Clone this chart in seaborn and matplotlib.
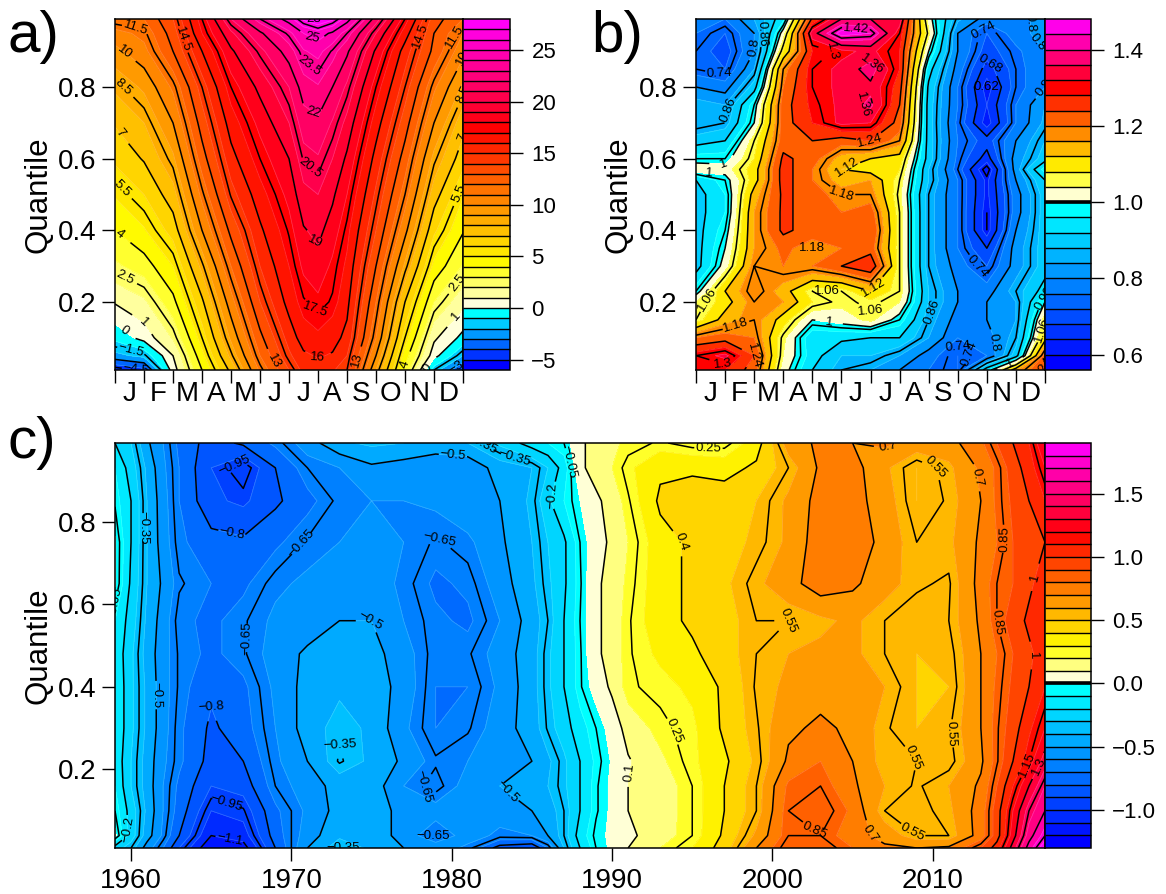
import numpy as np
import matplotlib
matplotlib.use("Agg")
import matplotlib.pyplot as plt
from matplotlib.transforms import blended_transform_factory
import seaborn as sns
from matplotlib.colors import BoundaryNorm, LinearSegmentedColormap, ListedColormap

# ---- panel a: quantile by month (monthly temperature) ----
a_months = [0, 1, 2, 3, 4, 5, 6, 6.5, 7, 7.5, 8, 9, 10, 11, 12]
a_quantiles = [0.01, 0.05, 0.10, 0.20, 0.30, 0.40, 0.50, 0.60, 0.70, 0.80, 0.90, 0.95, 0.99]
a_values = [
    [-5.0, -4.3, 0.5, 4.0, 7.3, 11.2, 14.0, 15.3, 15.5, 15.1, 14.5, 9.0, 3.8, -1.5, -4.0],
    [-2.3, -1.7, 1.0, 4.7, 8.3, 12.0, 14.8, 15.8, 16.1, 15.9, 15.0, 10.0, 4.5, 0.4, -2.0],
    [-0.7, 0.4, 2.1, 5.5, 9.2, 12.7, 15.4, 16.5, 16.8, 16.4, 15.7, 11.0, 5.5, 1.2, -0.3],
    [1.1, 1.8, 3.7, 6.8, 10.6, 14.0, 16.4, 17.4, 17.8, 17.4, 16.3, 12.0, 7.0, 3.0, 1.3],
    [2.8, 3.5, 5.0, 8.3, 12.0, 15.0, 17.0, 18.2, 18.6, 17.8, 16.8, 13.0, 8.8, 4.7, 2.9],
    [4.0, 4.9, 6.4, 10.0, 13.3, 15.8, 17.6, 18.9, 19.3, 18.5, 17.3, 14.0, 10.3, 6.2, 4.1],
    [5.1, 6.0, 7.6, 11.3, 14.6, 16.6, 18.3, 19.7, 20.0, 19.2, 18.0, 14.8, 11.5, 7.5, 5.1],
    [6.2, 7.1, 8.8, 12.5, 15.6, 17.5, 19.0, 20.6, 20.9, 20.0, 18.8, 15.6, 12.5, 8.7, 6.4],
    [7.1, 8.0, 10.0, 13.5, 16.5, 18.3, 20.0, 21.5, 21.8, 20.9, 19.7, 16.5, 13.5, 10.0, 7.4],
    [8.2, 9.2, 11.2, 14.5, 17.5, 19.3, 21.0, 22.5, 22.9, 22.0, 20.8, 17.5, 14.5, 11.2, 8.8],
    [9.7, 10.7, 13.0, 16.0, 18.8, 20.7, 22.5, 23.9, 24.3, 23.4, 22.2, 18.8, 15.5, 12.7, 10.3],
    [10.6, 11.3, 13.5, 17.0, 19.8, 21.8, 23.7, 25.0, 25.5, 24.8, 23.5, 20.0, 16.5, 13.0, 11.0],
    [12.0, 12.0, 14.0, 17.5, 21.0, 23.5, 25.5, 27.2, 28.3, 27.2, 25.5, 21.5, 17.5, 13.5, 12.0],
]
a_fill_levels = list(range(-6, 29))
a_line_levels = [-4.5, -3, -1.5, 0, 1, 2.5, 4, 5.5, 7, 8.5, 10, 11.5, 13, 14.5, 16,
                 17.5, 19, 20.5, 22, 23.5, 25, 26.5, 28]
a_bar_ticks = [-5, 0, 5, 10, 15, 20, 25]
# contour labels: level, month position, quantile
a_labels = [(11.5, 0.74, 0.976), (10, 0.55, 0.918), (8.5, 0.5, 0.82), (7, 0.43, 0.69),
            (5.5, 0.37, 0.527), (4, 0.25, 0.4), (2.5, 0.4, 0.28), (1, 1.17, 0.155),
            (0, 0.47, 0.137), (-1.5, 0.55, 0.065), (-4.5, 0.92, 0.02), (14.5, 2.6, 0.94),
            (13, 5.5, 0.035), (16, 7, 0.045), (17.5, 6.9, 0.18), (19, 6.94, 0.37),
            (20.5, 6.8, 0.58), (22, 6.75, 0.72), (23.5, 6.6, 0.85), (25, 6.7, 0.92),
            (28, 6.6, 0.98), (13, 8.25, 0.04), (4, 10, 0.025), (0, 10.7, 0.02),
            (-3, 11.7, 0.025), (1, 11.7, 0.165), (2.5, 11.7, 0.26), (5.5, 11.7, 0.51),
            (7, 11.8, 0.675), (8.5, 11.7, 0.8), (10, 11.7, 0.9), (11.5, 11.6, 0.945),
            (14.5, 10.35, 0.95)]

# ---- panel b: quantile by month (ratio) ----
b_months = [0, 1, 2, 3, 4, 5, 6, 7, 8, 9, 10, 11, 12]
b_quantiles = [0.01, 0.05, 0.10, 0.15, 0.20, 0.23, 0.30, 0.35, 0.40, 0.45, 0.50, 0.54,
               0.57, 0.60, 0.65, 0.70, 0.75, 0.80, 0.85, 0.90, 0.95, 0.99]
b_values = [
    [1.28, 1.28, 1.22, 1.02, 0.92, 0.86, 0.84, 0.80, 0.76, 0.72, 0.95, 1.15, 1.25],
    [1.30, 1.33, 1.24, 1.04, 0.94, 0.88, 0.88, 0.84, 0.78, 0.72, 0.76, 0.90, 1.22],
    [1.20, 1.22, 1.20, 1.05, 0.93, 0.93, 0.92, 0.92, 0.84, 0.76, 0.78, 0.86, 1.10],
    [1.06, 1.14, 1.18, 1.10, 1.00, 1.02, 1.05, 0.98, 0.86, 0.78, 0.80, 0.84, 1.06],
    [1.04, 1.10, 1.18, 1.16, 1.08, 1.05, 1.07, 1.04, 0.88, 0.80, 0.80, 0.84, 1.00],
    [0.98, 1.12, 1.20, 1.14, 1.06, 1.06, 1.12, 1.06, 0.88, 0.80, 0.78, 0.86, 0.94],
    [0.90, 1.02, 1.18, 1.20, 1.20, 1.24, 1.28, 1.06, 0.86, 0.78, 0.72, 0.82, 0.90],
    [0.90, 1.00, 1.16, 1.21, 1.18, 1.20, 1.22, 1.06, 0.86, 0.76, 0.68, 0.82, 0.90],
    [0.90, 0.98, 1.16, 1.25, 1.22, 1.21, 1.24, 1.06, 0.86, 0.76, 0.62, 0.80, 0.90],
    [0.90, 0.96, 1.16, 1.25, 1.22, 1.20, 1.22, 1.06, 0.86, 0.76, 0.62, 0.78, 0.90],
    [0.90, 0.96, 1.14, 1.25, 1.22, 1.18, 1.18, 1.05, 0.86, 0.76, 0.63, 0.78, 0.90],
    [0.92, 0.98, 1.10, 1.26, 1.20, 1.14, 1.16, 1.06, 0.88, 0.76, 0.63, 0.80, 0.92],
    [1.03, 1.02, 1.10, 1.26, 1.20, 1.12, 1.10, 1.08, 0.88, 0.74, 0.60, 0.82, 0.98],
    [0.98, 0.98, 1.08, 1.25, 1.22, 1.14, 1.12, 1.10, 0.90, 0.75, 0.66, 0.82, 0.90],
    [0.90, 0.92, 1.06, 1.22, 1.24, 1.22, 1.24, 1.18, 0.90, 0.76, 0.70, 0.80, 0.88],
    [0.84, 0.86, 1.00, 1.22, 1.28, 1.33, 1.32, 1.22, 0.90, 0.75, 0.62, 0.76, 0.85],
    [0.86, 0.84, 0.98, 1.22, 1.29, 1.33, 1.37, 1.24, 0.90, 0.76, 0.64, 0.76, 0.84],
    [0.80, 0.78, 0.90, 1.20, 1.30, 1.33, 1.35, 1.26, 0.91, 0.76, 0.62, 0.74, 0.80],
    [0.74, 0.72, 0.84, 1.18, 1.30, 1.33, 1.38, 1.28, 0.94, 0.78, 0.66, 0.74, 0.80],
    [0.74, 0.70, 0.80, 1.08, 1.28, 1.31, 1.33, 1.28, 1.00, 0.80, 0.70, 0.75, 0.80],
    [0.76, 0.72, 0.80, 1.02, 1.34, 1.46, 1.44, 1.30, 1.05, 0.80, 0.72, 0.78, 0.82],
    [0.80, 0.76, 0.84, 0.95, 1.25, 1.36, 1.36, 1.34, 1.02, 0.85, 0.78, 0.78, 0.82],
]
b_fill_levels = [0.56, 0.60, 0.64, 0.68, 0.72, 0.76, 0.80, 0.84, 0.88, 0.92, 0.96, 1.00,
                 1.04, 1.08, 1.12, 1.16, 1.20, 1.24, 1.28, 1.32, 1.36, 1.40, 1.44, 1.48]
b_line_levels = [0.62, 0.68, 0.74, 0.8, 0.86, 0.92, 0.98, 1, 1.06, 1.12, 1.18, 1.24, 1.3,
                 1.36, 1.42]
b_bar_ticks = [0.6, 0.8, 1.0, 1.2, 1.4]
b_labels = [(0.74, 0.84, 0.86), (0.86, 0.9, 0.74), (1, 0.94, 0.595), (1, 0.45, 0.55),
            (1.06, 0.5, 0.2), (1.18, 1.26, 0.165), (1.3, 0.96, 0.04), (1.24, 2.2, 0.07),
            (0.8, 1.97, 0.91), (0.86, 2.7, 0.955), (1.42, 5.5, 0.965), (1.3, 5.2, 0.89),
            (1.36, 6.17, 0.87), (1.36, 5.66, 0.74), (1.24, 5.98, 0.65), (1.12, 5.2, 0.575),
            (1.18, 5.0, 0.49), (1.18, 4.37, 0.35), (1.06, 4.5, 0.235), (1.12, 5.98, 0.25),
            (1.06, 6.05, 0.165), (1, 4.57, 0.14), (0.86, 7.9, 0.18), (0.74, 9.07, 0.18),
            (0.74, 9, 0.095), (0.74, 9.2, 0.27), (0.8, 9.93, 0.085), (0.98, 11.38, 0.33),
            (0.68, 10.2, 0.87), (0.62, 9.9, 0.815), (0.74, 9.9, 0.955), (0.8, 11.1, 0.98),
            (0.8, 11.45, 0.905), (0.8, 11.64, 0.82), (1, 10.6, 0.07), (1.06, 11.6, 0.13),
            (1.24, 11.5, 0.035)]

# ---- panel c: quantile by year (anomaly) ----
c_years = [1959, 1960, 1961, 1962, 1963, 1965, 1967, 1969, 1971, 1973, 1975, 1977, 1979,
           1981, 1983, 1985, 1986, 1987, 1988, 1989, 1990, 1991, 1993, 1995, 1997, 1999,
           2001, 2003, 2005, 2007, 2009, 2011, 2013, 2014, 2015, 2016, 2017]
c_quantiles = [0.01, 0.04, 0.10, 0.16, 0.22, 0.30, 0.40, 0.48, 0.56, 0.65, 0.75, 0.85, 0.93, 0.99]
c_values = [
    [-0.25, -0.35, -0.55, -0.70, -0.90, -1.20, -1.15, -0.80, -0.50, -0.34, -0.42, -0.50, -0.55,
     -0.62, -0.85, -0.90, -0.70, -0.40, -0.20, -0.05, 0.02, 0.10, 0.20, 0.30, 0.45, 0.70,
     0.90, 0.90, 0.80, 0.72, 0.70, 0.72, 0.90, 1.05, 1.35, 1.65, 1.88],
    [0.02, -0.25, -0.45, -0.62, -0.80, -1.10, -1.05, -0.75, -0.55, -0.42, -0.42, -0.55, -0.66,
     -0.56, -0.62, -0.60, -0.50, -0.35, -0.15, -0.03, 0.02, 0.08, 0.15, 0.25, 0.42, 0.62,
     0.85, 0.85, 0.75, 0.66, 0.55, 0.55, 0.75, 0.95, 1.25, 1.55, 1.75],
    [-0.05, -0.25, -0.42, -0.60, -0.74, -1.00, -0.96, -0.72, -0.58, -0.46, -0.42, -0.55, -0.56,
     -0.58, -0.56, -0.50, -0.45, -0.35, -0.20, -0.06, 0.02, 0.10, 0.14, 0.25, 0.40, 0.55,
     0.85, 0.90, 0.78, 0.55, 0.52, 0.58, 0.75, 0.95, 1.20, 1.45, 1.60],
    [-0.10, -0.30, -0.44, -0.60, -0.72, -0.90, -0.86, -0.65, -0.55, -0.46, -0.44, -0.60, -0.68,
     -0.56, -0.50, -0.46, -0.40, -0.32, -0.20, -0.06, 0.02, 0.10, 0.14, 0.25, 0.40, 0.55,
     0.82, 0.85, 0.72, 0.60, 0.54, 0.60, 0.72, 0.90, 1.10, 1.30, 1.50],
    [-0.12, -0.30, -0.44, -0.58, -0.68, -0.84, -0.80, -0.62, -0.50, -0.34, -0.42, -0.52, -0.64,
     -0.60, -0.54, -0.50, -0.42, -0.32, -0.20, -0.08, 0.01, 0.09, 0.18, 0.28, 0.38, 0.52,
     0.72, 0.80, 0.70, 0.56, 0.55, 0.52, 0.68, 0.84, 1.00, 1.15, 1.35],
    [-0.10, -0.28, -0.42, -0.56, -0.68, -0.82, -0.74, -0.60, -0.45, -0.36, -0.42, -0.58, -0.70,
     -0.66, -0.55, -0.45, -0.34, -0.25, -0.14, -0.05, 0.04, 0.14, 0.23, 0.28, 0.42, 0.54,
     0.68, 0.72, 0.68, 0.56, 0.50, 0.54, 0.70, 0.84, 0.95, 1.08, 1.20],
    [-0.10, -0.28, -0.42, -0.56, -0.66, -0.78, -0.72, -0.58, -0.46, -0.42, -0.44, -0.54, -0.70,
     -0.70, -0.58, -0.44, -0.32, -0.20, -0.06, 0.04, 0.12, 0.24, 0.27, 0.32, 0.42, 0.56,
     0.62, 0.66, 0.66, 0.60, 0.50, 0.50, 0.70, 0.82, 0.92, 1.00, 1.10],
    [-0.12, -0.28, -0.44, -0.56, -0.66, -0.72, -0.66, -0.56, -0.48, -0.45, -0.46, -0.56, -0.68,
     -0.66, -0.56, -0.44, -0.32, -0.20, -0.06, 0.08, 0.14, 0.24, 0.32, 0.38, 0.46, 0.55,
     0.60, 0.62, 0.62, 0.55, 0.50, 0.52, 0.70, 0.80, 0.90, 0.98, 1.05],
    [-0.10, -0.25, -0.42, -0.55, -0.68, -0.72, -0.66, -0.58, -0.56, -0.50, -0.50, -0.60, -0.68,
     -0.72, -0.60, -0.45, -0.35, -0.20, -0.05, 0.08, 0.14, 0.24, 0.36, 0.42, 0.46, 0.55,
     0.55, 0.58, 0.62, 0.55, 0.52, 0.55, 0.72, 0.85, 0.95, 1.02, 1.05],
    [0.01, -0.22, -0.40, -0.52, -0.64, -0.70, -0.72, -0.62, -0.58, -0.55, -0.55, -0.62, -0.72,
     -0.68, -0.55, -0.42, -0.32, -0.22, -0.06, 0.08, 0.14, 0.22, 0.36, 0.42, 0.48, 0.58,
     0.66, 0.76, 0.72, 0.64, 0.56, 0.54, 0.74, 0.85, 0.90, 0.98, 1.05],
    [0.01, -0.20, -0.40, -0.55, -0.68, -0.76, -0.78, -0.72, -0.64, -0.60, -0.58, -0.60, -0.66,
     -0.62, -0.52, -0.40, -0.30, -0.22, -0.05, 0.06, 0.12, 0.20, 0.36, 0.42, 0.46, 0.52,
     0.62, 0.76, 0.78, 0.66, 0.55, 0.58, 0.72, 0.80, 0.90, 0.95, 1.00],
    [-0.06, -0.20, -0.40, -0.56, -0.70, -0.88, -0.92, -0.82, -0.73, -0.63, -0.60, -0.60, -0.58,
     -0.53, -0.50, -0.38, -0.22, -0.10, 0.00, 0.08, 0.14, 0.24, 0.42, 0.46, 0.46, 0.50,
     0.62, 0.74, 0.74, 0.65, 0.50, 0.56, 0.70, 0.82, 0.92, 1.00, 1.10],
    [-0.10, -0.25, -0.42, -0.58, -0.70, -0.90, -1.00, -0.80, -0.65, -0.60, -0.52, -0.55, -0.60,
     -0.58, -0.45, -0.40, -0.30, -0.15, 0.08, 0.14, 0.20, 0.28, 0.38, 0.38, 0.36, 0.42,
     0.55, 0.72, 0.74, 0.62, 0.50, 0.58, 0.72, 0.82, 0.95, 1.05, 1.20],
    [-0.20, -0.30, -0.48, -0.60, -0.72, -0.85, -0.78, -0.68, -0.55, -0.42, -0.38, -0.40, -0.42,
     -0.40, -0.28, -0.15, -0.10, -0.05, 0.08, 0.14, 0.18, 0.22, 0.26, 0.22, 0.22, 0.35,
     0.65, 0.72, 0.70, 0.72, 0.66, 0.66, 0.78, 0.90, 1.00, 1.10, 1.30],
]
c_fill_levels = [round(-1.3 + 0.1 * i, 1) for i in range(33)]
c_line_levels = [-1.1, -0.95, -0.8, -0.65, -0.5, -0.35, -0.2, -0.05, 0.1, 0.25, 0.4, 0.55,
                 0.7, 0.85, 1, 1.15, 1.3, 1.45, 1.6, 1.75]
c_bar_ticks = [-1.0, -0.5, 0.0, 0.5, 1.0, 1.5]
c_year_ticks = [1960, 1970, 1980, 1990, 2000, 2010]
c_labels = [(-0.05, 1959.35, 0.59), (-0.35, 1960.7, 0.786), (-0.5, 1961.5, 0.38),
            (-0.2, 1960, 0.056), (-0.95, 1966.4, 0.944), (-0.8, 1966.3, 0.77),
            (-0.65, 1965.3, 0.52), (-0.8, 1965.1, 0.36), (-0.95, 1965.9, 0.117),
            (-1.1, 1966.2, 0.044), (-0.65, 1970.8, 0.74), (-0.5, 1974.9, 0.597),
            (-0.35, 1972.9, 0.33), (-0.35, 1973.7, 0.03), (-0.35, 1976.8, 0.976),
            (-0.5, 1980.1, 0.972), (-0.35, 1984, 0.964), (-0.2, 1985, 0.875),
            (-0.05, 1987.2, 0.943), (-0.65, 1979.3, 0.76), (-0.65, 1977.3, 0.165),
            (-0.65, 1978, 0.06), (-0.5, 1981.1, 0.027), (0.25, 1996, 0.957),
            (0.4, 1995.2, 0.776), (0.55, 2001, 0.6), (0.25, 1994, 0.295), (0.1, 1992.7, 0.183),
            (0.85, 2002.8, 0.062), (0.7, 2005.9, 0.042), (0.55, 2009, 0.062),
            (0.55, 2009, 0.235), (0.55, 2010, 0.282), (0.55, 2010.4, 0.956), (0.7, 2007.2, 0.98),
            (0.7, 2014.3, 0.915), (0.85, 2015.8, 0.762), (0.85, 2015.1, 0.565),
            (1, 2016.4, 0.665), (1, 2016.3, 0.476), (1.15, 2015.5, 0.218), (1.3, 2016.7, 0.206)]

month_letters = ["J", "F", "M", "A", "M", "J", "J", "A", "S", "O", "N", "D"]
quantile_ticks = [0.2, 0.4, 0.6, 0.8]

FIG_W, FIG_H = 1166, 894

sns.set_theme(style="ticks")
plt.rcParams["font.family"] = ["Liberation Sans", "DejaVu Sans"]
plt.rcParams["axes.linewidth"] = 1.1
plt.rcParams["text.color"] = "black"
plt.rcParams["axes.labelcolor"] = "black"
plt.rcParams["xtick.color"] = "black"
plt.rcParams["ytick.color"] = "black"
plt.rcParams["axes.edgecolor"] = "black"
plt.rcParams["contour.negative_linestyle"] = "solid"

warm_ramp = LinearSegmentedColormap.from_list(
    "warm", [(0, "#FFFFDC"), (0.14, "#FFFF00"), (0.62, "#FF0000"), (1, "#FF00FF")]
)


def band_cmap(levels, split):
    # blue to cyan below the split value, cream through red to magenta above it
    n_cold = sum(1 for v in levels[:-1] if v < split)
    n_warm = len(levels) - 1 - n_cold
    cold = sns.blend_palette(["#0000FF", "#00FFFF"], n_cold)
    warm = [warm_ramp((i + 0.1) / (n_warm - 0.5)) for i in range(n_warm)]
    return ListedColormap(list(cold) + warm)


def px_axes(fig, left, top, right, bottom):
    return fig.add_axes([left / FIG_W, 1 - bottom / FIG_H,
                         (right - left) / FIG_W, (bottom - top) / FIG_H])


def label_text(v):
    return f"{v:g}".replace("-", "\u2212")


def label_contours(ax, cs, line_levels, labels):
    # register every level first, then narrow the search to the wanted one
    ax.clabel(cs, fmt=label_text, fontsize=9.5, inline=True, manual=[])
    for level, x, y in labels:
        cs.labelIndiceList = [line_levels.index(level)]
        cs.add_label_near(x, y, inline=True, inline_spacing=1)


def draw_panel(fig, box, bar_box, xs, ys, values, fill_levels, line_levels, bar_ticks,
               split, labels, zero_bar):
    ax = px_axes(fig, *box)
    cax = px_axes(fig, *bar_box)
    cmap = band_cmap(fill_levels, split)
    norm = BoundaryNorm(fill_levels, cmap.N)
    z = np.array(values)
    z_fill = np.clip(z, fill_levels[0] + 1e-3, fill_levels[-1] - 1e-3)
    cf = ax.contourf(xs, ys, z_fill, levels=fill_levels, cmap=cmap, norm=norm)
    ax.contour(xs, ys, z_fill, levels=fill_levels, colors="white", linewidths=0.6, alpha=0.2)
    cs = ax.contour(xs, ys, z, levels=line_levels, colors="black", linewidths=1.1)
    label_contours(ax, cs, line_levels, labels)
    ax.set_ylim(0.01, 0.99)
    ax.set_yticks(quantile_ticks, [f"{q:.1f}" for q in quantile_ticks])
    ax.tick_params(axis="y", length=9.4, width=1, labelsize=20, pad=4)
    ax.tick_params(axis="x", which="major", length=9.4, width=1)
    ax.set_ylabel("Quantile", fontsize=22.5)

    cb = fig.colorbar(cf, cax=cax, ticks=bar_ticks, drawedges=True)
    cb.dividers.set_color("black")
    cb.dividers.set_linewidth(1.0)
    cb.outline.set_linewidth(1.1)
    cax.minorticks_off()
    if zero_bar is not None:
        cax.axhline(zero_bar, color="black", lw=2.6)
    cax.tick_params(length=9.4, width=1, labelsize=16, pad=6)
    return ax


def month_axis(ax):
    ax.set_xlim(0, 12)
    ax.set_xticks(range(13), [""] * 13)
    ax.set_xticks([m + 0.5 for m in range(12)], month_letters, minor=True)
    ax.tick_params(axis="x", which="minor", length=0, labelsize=20, pad=8)


fig = plt.figure(figsize=(FIG_W / 100, FIG_H / 100), dpi=100, facecolor="white")

ax_a = draw_panel(fig, (115, 19, 463, 370), (463, 19, 510, 370), a_months, a_quantiles, a_values,
                  a_fill_levels, a_line_levels, a_bar_ticks, 0, a_labels, None)
month_axis(ax_a)

ax_b = draw_panel(fig, (696, 19, 1045, 370), (1045, 19, 1091, 370), b_months, b_quantiles, b_values,
                  b_fill_levels, b_line_levels, b_bar_ticks, 1.0, b_labels, 1.0)
month_axis(ax_b)

ax_c = draw_panel(fig, (115, 443, 1045, 848), (1045, 443, 1091, 848), c_years, c_quantiles, c_values,
                  c_fill_levels, c_line_levels, c_bar_ticks, 0.0, c_labels, 0.0)
ax_c.set_xticks(c_year_ticks, [str(y) for y in c_year_ticks])
ax_c.tick_params(axis="x", labelsize=20, pad=5)

for ax, x_px in ((ax_a, 53), (ax_b, 633), (ax_c, 53)):
    ax.yaxis.set_label_coords(x_px / FIG_W, 0.5,
                              transform=blended_transform_factory(fig.transFigure, ax.transAxes))

for letter, x_px, y_px in (("a)", 8, 52), ("b)", 591, 52), ("c)", 8, 458)):
    fig.text(x_px / FIG_W, 1 - y_px / FIG_H, letter, fontsize=42, ha="left", va="baseline")

fig.savefig("out.png", dpi=100)
